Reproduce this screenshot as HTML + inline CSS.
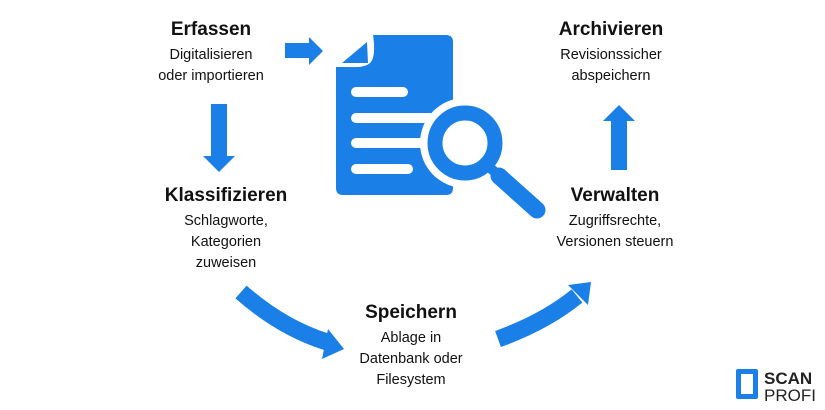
<!DOCTYPE html>
<html><head><meta charset="utf-8"><style>
body{margin:0;width:825px;height:410px;background:#fff;position:relative;overflow:hidden;font-family:"Liberation Sans",sans-serif;color:#111}
.t{position:absolute;text-align:center;transform:translateX(-50%);white-space:nowrap}
.t b{display:block;font-size:19px;line-height:24px;margin-bottom:3px}
.t span{display:block;font-size:14.5px;line-height:21px}
</style></head><body>
<svg width="825" height="410" style="position:absolute;left:0;top:0">
<g fill="#1a80e8">
<polygon points="285,43 309,43 309,37 323,51 309,65 309,58 285,58"/>
<polygon points="211,104 227,104 227,156 235,156 219,172 203,156 211,156"/>
<polygon points="611,170 627,170 627,121 635,121 619,105 603,121 611,121"/>
<path d="M336,67 L336,188 Q336,195 343,195 L446,195 Q453,195 453,188 L453,42 Q453,35 446,35 L373,35 Q376,55 371,62 Q366,68 350,67 Z"/>
<polygon points="342,63 367,42 368,63"/>
</g>
<g stroke="#fff" stroke-width="10" stroke-linecap="round">
<line x1="356" y1="92" x2="403" y2="92"/>
<line x1="356" y1="118" x2="430" y2="118"/>
<line x1="356" y1="143" x2="430" y2="143"/>
<line x1="356" y1="169" x2="408" y2="169"/>
</g>
<circle cx="465" cy="143" r="45" fill="#fff"/>
<line x1="492" y1="170" x2="540" y2="212" stroke="#fff" stroke-width="30" stroke-linecap="round"/>
<circle cx="465" cy="143" r="30" fill="none" stroke="#1a80e8" stroke-width="15"/>
<line x1="488" y1="166" x2="497" y2="174" stroke="#1a80e8" stroke-width="10"/>
<line x1="499" y1="176" x2="537" y2="210" stroke="#1a80e8" stroke-width="17" stroke-linecap="round"/>
<path d="M241,292 Q282,328 327,342" fill="none" stroke="#1a80e8" stroke-width="17"/>
<polygon points="328,329 344,349 322,359" fill="#1a80e8"/>
<path d="M498,339 Q545,322 577,296" fill="none" stroke="#1a80e8" stroke-width="17"/>
<polygon points="568,285 591,282 588,305" fill="#1a80e8"/>
<rect x="736" y="369" width="22" height="30" rx="2" fill="#1a80e8"/>
<rect x="741" y="374" width="12" height="20" fill="#fff"/>
<text x="764" y="384" font-family="Liberation Sans" font-weight="bold" font-size="17" fill="#222">SCAN</text>
<text x="764" y="401" font-family="Liberation Sans" font-size="17" fill="#222">PROFI</text>
</svg>
<div class="t" style="left:211px;top:18px"><b>Erfassen</b><span>Digitalisieren</span><span>oder importieren</span></div>
<div class="t" style="left:611px;top:18px"><b>Archivieren</b><span>Revisionssicher</span><span>abspeichern</span></div>
<div class="t" style="left:226px;top:184px"><b>Klassifizieren</b><span>Schlagworte,</span><span>Kategorien</span><span>zuweisen</span></div>
<div class="t" style="left:615px;top:184px"><b>Verwalten</b><span>Zugriffsrechte,</span><span>Versionen steuern</span></div>
<div class="t" style="left:411px;top:301px"><b>Speichern</b><span>Ablage in</span><span>Datenbank oder</span><span>Filesystem</span></div>
</body></html>
